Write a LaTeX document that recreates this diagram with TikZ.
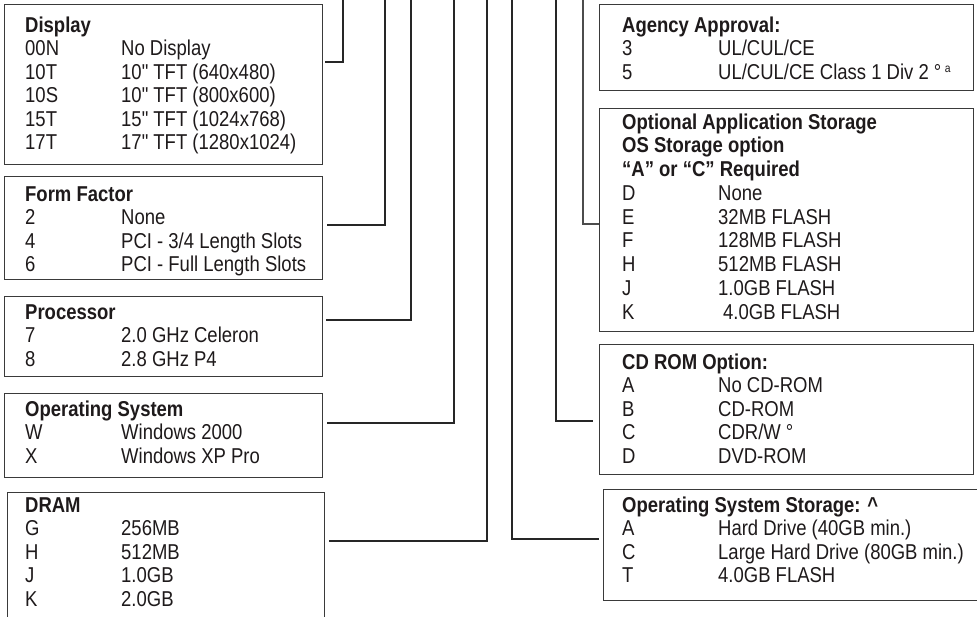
\documentclass[tikz,border=0pt]{standalone}
\usepackage{fontspec}
\setmainfont{Liberation Sans}[FakeStretch=0.86,Ligatures=TeXOff]
\usetikzlibrary{calc}
\definecolor{ink}{HTML}{1E1A1B}
\definecolor{edge}{HTML}{3A3A3A}
\newcommand\cdcol[1]{\makebox[96pt][l]{#1}}
\tikzset{
  box/.style={draw=edge, line width=1.4pt, anchor=north west, inner sep=0pt},
  txt/.style={anchor=base west, inner sep=0pt, text=ink,
              font=\fontsize{21.5}{23.5}\selectfont},
  txtb/.style={txt, font=\fontsize{21.5}{23.75}\selectfont},
  conn/.style={draw=black!85, line width=1.1pt},
  connb/.style={draw=black!70, line width=1.9pt}
}
\begin{document}
\begin{tikzpicture}[x=1pt,y=-1pt]
\clip (0,0) rectangle (977,616);
\fill[white] (0,0) rectangle (977,616);

% ---------- left boxes ----------
\node[box, minimum width=318, minimum height=160] (disp) at (4,4) {};
\node[txt] (disptxt) at ($(disp.north west)+(21,28)$) {\begin{tabular}[t]{@{}l@{}}
\textbf{Display}\\
\cdcol{00N}No Display\\
\cdcol{10T}10" TFT (640x480)\\
\cdcol{10S}10" TFT (800x600)\\
\cdcol{15T}15" TFT (1024x768)\\
\cdcol{17T}17" TFT (1280x1024)
\end{tabular}};

\node[box, minimum width=318, minimum height=103] (ff) at (4,176) {};
\node[txt] (fftxt) at ($(ff.north west)+(21,25)$) {\begin{tabular}[t]{@{}l@{}}
\textbf{Form Factor}\\
\cdcol{2}None\\
\cdcol{4}PCI - 3/4 Length Slots\\
\cdcol{6}PCI - Full Length Slots
\end{tabular}};

\node[box, minimum width=318, minimum height=80] (proc) at (4,296) {};
\node[txt] (proctxt) at ($(proc.north west)+(21,23)$) {\begin{tabular}[t]{@{}l@{}}
\textbf{Processor}\\
\cdcol{7}2.0 GHz Celeron\\
\cdcol{8}2.8 GHz P4
\end{tabular}};

\node[box, minimum width=318, minimum height=84] (os) at (4,393) {};
\node[txt] (ostxt) at ($(os.north west)+(21,23)$) {\begin{tabular}[t]{@{}l@{}}
\textbf{Operating System}\\
\cdcol{W}Windows 2000\\
\cdcol{X}Windows XP Pro
\end{tabular}};

\node[box, minimum width=317, minimum height=140] (dram) at (7,492) {};
\node[txt] (dramtxt) at ($(dram.north west)+(18,20)$) {\begin{tabular}[t]{@{}l@{}}
\textbf{DRAM}\\
\cdcol{G}256MB\\
\cdcol{H}512MB\\
\cdcol{J}1.0GB\\
\cdcol{K}2.0GB
\end{tabular}};

% ---------- right boxes ----------
\node[box, minimum width=374, minimum height=86] (agency) at (599,4) {};
\node[txt] (agencytxt) at ($(agency.north west)+(23,28)$) {\begin{tabular}[t]{@{}l@{}}
\textbf{Agency Approval:}\\
\cdcol{3}UL/CUL/CE\\
\cdcol{5}UL/CUL/CE Class 1 Div 2 °\,\raisebox{0.55ex}{\fontsize{12}{12}\selectfont a}
\end{tabular}};

\node[box, minimum width=374, minimum height=223] (opt) at (599,108) {};
\node[txtb] (opttxt) at ($(opt.north west)+(23,21)$) {\begin{tabular}[t]{@{}l@{}}
\textbf{Optional Application Storage}\\
\textbf{OS Storage option}\\
\textbf{“A” or “C” Required}\\
\cdcol{D}None\\
\cdcol{E}32MB FLASH\\
\cdcol{F}128MB FLASH\\
\cdcol{H}512MB FLASH\\
\cdcol{J}1.0GB FLASH\\
\cdcol{K}\hspace{5pt}4.0GB FLASH
\end{tabular}};

\node[box, minimum width=374, minimum height=130] (cd) at (599,344) {};
\node[txt] (cdtxt) at ($(cd.north west)+(23,25)$) {\begin{tabular}[t]{@{}l@{}}
\textbf{CD ROM Option:}\\
\cdcol{A}No CD-ROM\\
\cdcol{B}CD-ROM\\
\cdcol{C}CDR/W °\\
\cdcol{D}DVD-ROM
\end{tabular}};

\node[box, minimum width=390, minimum height=111] (oss) at (603,489) {};
\node[txt] (osstxt) at ($(oss.north west)+(19,23)$) {\begin{tabular}[t]{@{}l@{}}
\textbf{Operating System Storage: \^{}}\\
\cdcol{A}Hard Drive (40GB min.)\\
\cdcol{C}Large Hard Drive (80GB min.)\\
\cdcol{T}4.0GB FLASH
\end{tabular}};

% ---------- connector top ends ----------
\coordinate (t1) at (343,-2);
\coordinate (t2) at (385,-2);
\coordinate (t3) at (411,-2);
\coordinate (t4) at (454,-2);
\coordinate (t5) at (487,-2);
\coordinate (t6) at (512,-2);
\coordinate (t7) at (556,-2);
\coordinate (t8) at (583,-2);

% ---------- connectors ----------
\draw[conn] ($(disp.north east)+(2,58)$) -| (t1);
\draw[conn] ($(ff.north east)+(4,49)$) -| (t2);
\draw[conn] ($(proc.north east)+(3,24)$) -| (t3);
\draw[conn] ($(os.north east)+(4,30)$) -| (t4);
\draw[conn] ($(dram.north east)+(4,49)$) -| (t5);
\draw[conn] (t6) |- ($(oss.north west)+(-4,50)$);
\draw[conn] (t7) |- ($(cd.north west)+(-6,77)$);
\draw[connb] (t8) |- ($(opt.north west)+(0,116)$);
\end{tikzpicture}
\end{document}
